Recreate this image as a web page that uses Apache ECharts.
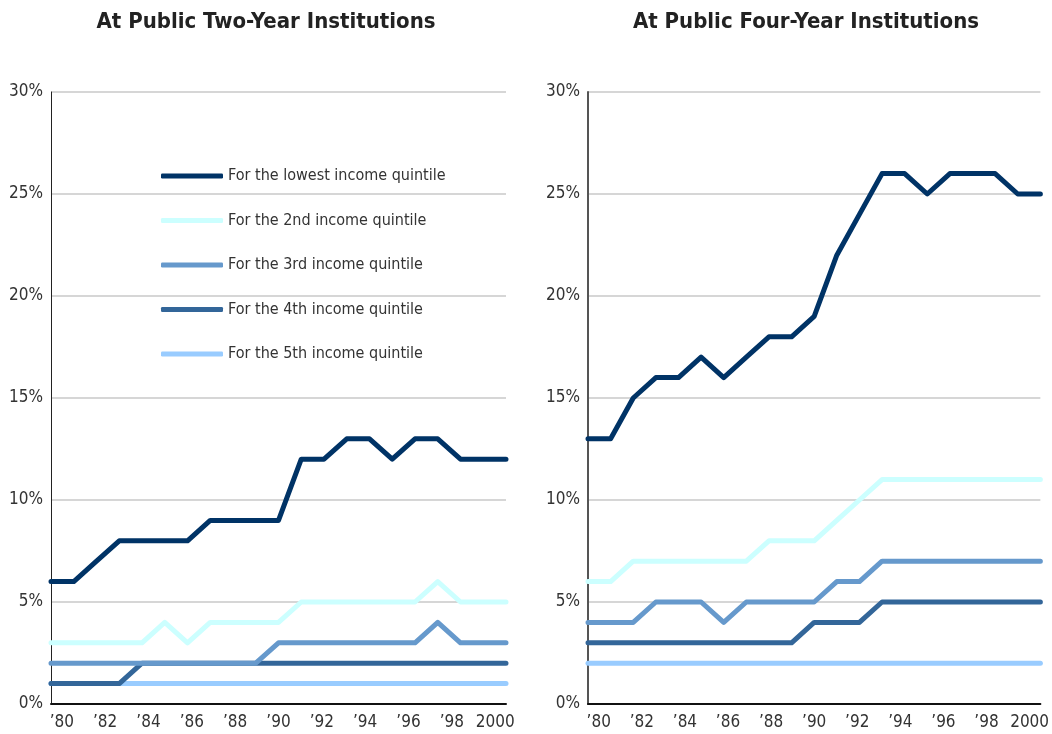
<!DOCTYPE html>
<html>
<head>
<meta charset="utf-8">
<script src="https://cdn.jsdelivr.net/npm/echarts@6/dist/echarts.min.js"></script>
<style>
  html, body { margin: 0; padding: 0; background: #fff; }
  #chart { width: 1052px; height: 734px; }
</style>
</head>
<body>
<div id="chart"></div>
<script>
// years on the x axis
const years = ['1980','1981','1982','1983','1984','1985','1986','1987','1988','1989','1990',
  '1991','1992','1993','1994','1995','1996','1997','1998','1999','2000']
const yearLabels = ['’80','’81','’82','’83','’84','’85','’86','’87','’88','’89','’90',
  '’91','’92','’93','’94','’95','’96','’97','’98','’99','2000']

const seriesNames = [
  'For the lowest income quintile',
  'For the 2nd income quintile',
  'For the 3rd income quintile',
  'For the 4th income quintile',
  'For the 5th income quintile'
]
const colors = ['#003366', '#ccffff', '#6699cc', '#336699', '#99ccff']

// public two-year institutions (%)
const twoYearLowest = [6,6,7,8,8,8,8,9,9,9,9,12,12,13,13,12,13,13,12,12,12]
const twoYear2nd    = [3,3,3,3,3,4,3,4,4,4,4,5,5,5,5,5,5,6,5,5,5]
const twoYear3rd    = [2,2,2,2,2,2,2,2,2,2,3,3,3,3,3,3,3,4,3,3,3]
const twoYear4th    = [1,1,1,1,2,2,2,2,2,2,2,2,2,2,2,2,2,2,2,2,2]
const twoYear5th    = [1,1,1,1,1,1,1,1,1,1,1,1,1,1,1,1,1,1,1,1,1]

// public four-year institutions (%)
const fourYearLowest = [13,13,15,16,16,17,16,17,18,18,19,22,24,26,26,25,26,26,26,25,25]
const fourYear2nd    = [6,6,7,7,7,7,7,7,8,8,8,9,10,11,11,11,11,11,11,11,11]
const fourYear3rd    = [4,4,4,5,5,5,4,5,5,5,5,6,6,7,7,7,7,7,7,7,7]
const fourYear4th    = [3,3,3,3,3,3,3,3,3,3,4,4,4,5,5,5,5,5,5,5,5]
const fourYear5th    = [2,2,2,2,2,2,2,2,2,2,2,2,2,2,2,2,2,2,2,2,2]

const panels = [
  { title: 'At Public Two-Year Institutions', data: [twoYearLowest, twoYear2nd, twoYear3rd, twoYear4th, twoYear5th], axisColor: '#222', axisWidth: 1, titleX: 261 },
  { title: 'At Public Four-Year Institutions', data: [fourYearLowest, fourYear2nd, fourYear3rd, fourYear4th, fourYear5th], axisColor: '#555', axisWidth: 2, titleX: 801 }
]

const FONT = '"DejaVu Sans Condensed", "Liberation Sans Narrow", "Liberation Sans", Arial, sans-serif'

const chart = echarts.init(document.getElementById('chart'))

const grids = [
  { left: 51, width: 455, top: 92, height: 612 },
  { left: 588, width: 455, top: 92, height: 612 }
]

const xAxes = []
const yAxes = []
const series = []
const titles = []

panels.forEach((p, g) => {
  titles.push({
    text: p.title,
    left: p.titleX,
    top: 6,
    textAlign: 'center',
    textStyle: { fontFamily: FONT, fontWeight: 'bold', fontSize: 22, color: '#222' }
  })
  // visible axis: labels and tick marks centred in bands
  xAxes.push({
    type: 'category',
    gridIndex: g,
    data: yearLabels,
    boundaryGap: true,
    axisLine: { lineStyle: { color: '#111', width: 2 } },
    axisTick: { inside: true, length: 9, alignWithLabel: true, interval: 0, lineStyle: { color: '#111', width: 1.5 } },
    axisLabel: { interval: 1, color: '#333', fontFamily: FONT, fontSize: 17, margin: 10 }
  })
  // hidden axis the lines are drawn on (edge to edge)
  xAxes.push({
    type: 'category',
    gridIndex: g,
    data: years,
    boundaryGap: false,
    show: false
  })
  yAxes.push({
    type: 'value',
    gridIndex: g,
    min: 0,
    max: 30,
    interval: 5,
    axisLine: { show: true, lineStyle: { color: p.axisColor, width: p.axisWidth } },
    axisTick: { show: false },
    axisLabel: { formatter: '{value}%', color: '#333', fontFamily: FONT, fontSize: 17, margin: 8 },
    splitLine: { lineStyle: { color: '#c8c8c8', width: 1.5 } }
  })
  p.data.forEach((vals, i) => {
    series.push({
      name: seriesNames[i],
      type: 'line',
      xAxisIndex: g * 2 + 1,
      yAxisIndex: g,
      data: vals,
      symbol: 'none',
      z: 10 - i,
      lineStyle: { color: colors[i], width: 5, cap: 'round', join: 'round' },
      itemStyle: { color: colors[i] }
    })
  })
})

chart.setOption({
  animation: false,
  title: titles,
  grid: grids,
  xAxis: xAxes,
  yAxis: yAxes,
  legend: {
    orient: 'vertical',
    left: 156,
    top: 163,
    itemWidth: 62,
    itemHeight: 5,
    itemGap: 28.5,
    icon: 'roundRect',
    data: seriesNames,
    textStyle: { fontFamily: FONT, fontSize: 16, color: '#333' }
  },
  series: series
})
</script>
</body>
</html>
